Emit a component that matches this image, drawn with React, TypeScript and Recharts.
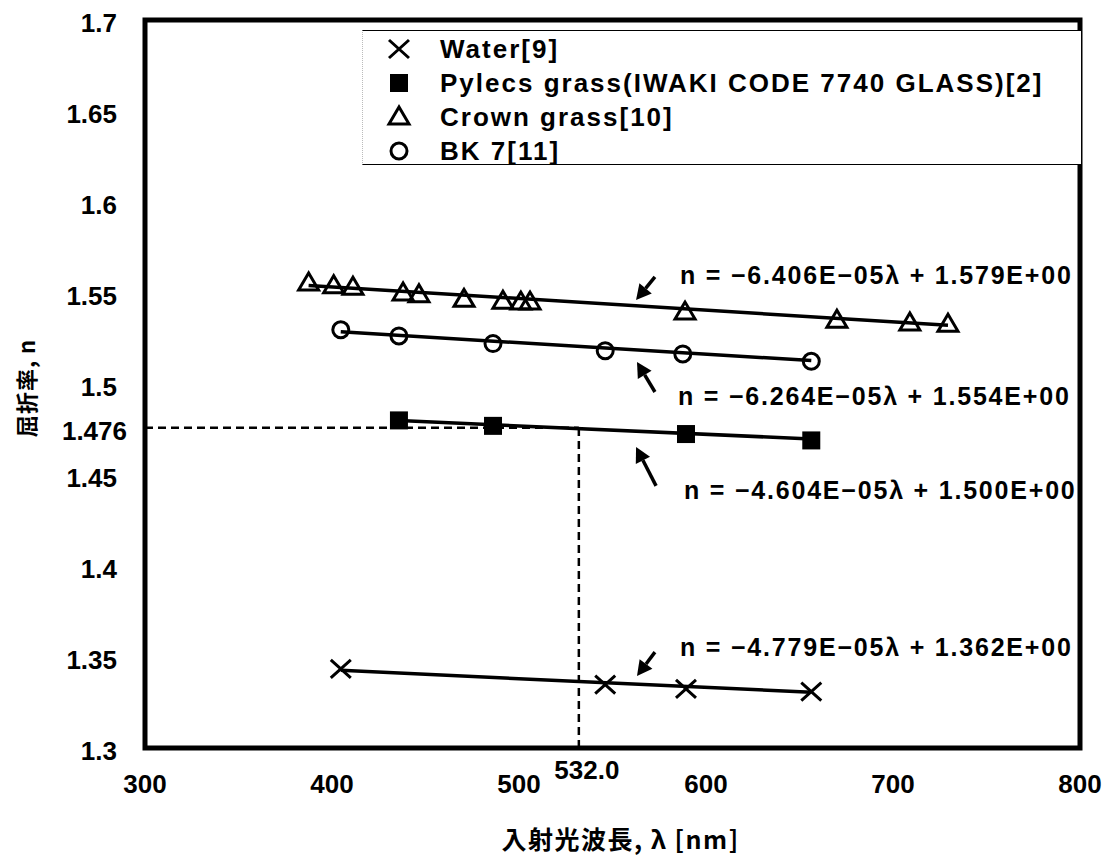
import React from 'react'
import {
  ScatterChart,
  Scatter,
  XAxis,
  YAxis,
  ReferenceLine,
  ReferenceArea,
  ReferenceDot,
} from 'recharts'

// wavelength [nm] / refractive index per material
const waterX = [404.7, 546.1, 589.3, 656.3]
const waterN = [1.3435, 1.3348, 1.3325, 1.331]
const pyrexX = [435.8, 486.1, 589.3, 656.3]
const pyrexN = [1.48, 1.477, 1.4725, 1.469]
const crownX = [387.5, 400.9, 411.2, 438.0, 446.5, 470.6, 491.4, 501.0, 505.9, 588.8, 670.0, 709.0, 729.4]
const crownN = [1.5555, 1.554, 1.5532, 1.55, 1.549, 1.5465, 1.5455, 1.545, 1.545, 1.5395, 1.535, 1.5335, 1.5328]
const bk7X = [404.7, 435.8, 486.1, 546.1, 587.6, 656.3]
const bk7N = [1.5298, 1.5264, 1.5222, 1.5183, 1.5165, 1.5125]

// linear fits n = a*λ + b
const slopes = [-4.779e-5, -4.604e-5, -6.406e-5, -6.264e-5]
const intercepts = [1.362, 1.5, 1.579, 1.554]
const fitLabels = [
  'n = −4.779E−05λ + 1.362E+00',
  'n = −4.604E−05λ + 1.500E+00',
  'n = −6.406E−05λ + 1.579E+00',
  'n = −6.264E−05λ + 1.554E+00',
]

const legendNames = [
  'Water[9]',
  'Pylecs grass(IWAKI CODE 7740 GLASS)[2]',
  'Crown grass[10]',
  'BK 7[11]',
]

const xTicks = [300, 400, 500, 532, 600, 700, 800]
const yTicks = [1.3, 1.35, 1.4, 1.45, 1.476, 1.5, 1.55, 1.6, 1.65, 1.7]

const markLambda = 532
const markN = 1.476

const toPts = (xs: number[], ns: number[]) => xs.map((x, i) => ({ x, n: ns[i] }))
const series = [toPts(waterX, waterN), toPts(pyrexX, pyrexN), toPts(crownX, crownN), toPts(bk7X, bk7N)]

// where each equation and its pointer arrow sit (data units)
const labelPos = [
  { x: 586.1, y: 1.3555 },
  { x: 588.2, y: 1.4418 },
  { x: 586.1, y: 1.5599 },
  { x: 585.0, y: 1.4934 },
]
const arrowPos = [
  [{ x: 572.7, y: 1.3527 }, { x: 563.1, y: 1.3396 }],
  [{ x: 573.3, y: 1.444 }, { x: 562.6, y: 1.4654 }],
  [{ x: 572.7, y: 1.5588 }, { x: 562.6, y: 1.5462 }],
  [{ x: 572.7, y: 1.4956 }, { x: 563.1, y: 1.5121 }],
]

const FONT = "'Liberation Sans', Arial, sans-serif"
const JP = "'Noto Sans CJK JP', sans-serif"

const XMark = ({ cx, cy }: any) => (
  <path
    d={`M${cx - 10},${cy - 9}L${cx + 10},${cy + 9}M${cx + 10},${cy - 9}L${cx - 10},${cy + 9}`}
    stroke="#000"
    strokeWidth={3}
    fill="none"
  />
)
const SquareMark = ({ cx, cy }: any) => <rect x={cx - 9} y={cy - 9} width={18} height={18} fill="#000" />
const TriMark = ({ cx, cy }: any) => (
  <polygon
    points={`${cx},${cy - 10} ${cx - 10},${cy + 7} ${cx + 10},${cy + 7}`}
    stroke="#000"
    strokeWidth={3}
    fill="none"
  />
)
const CircleMark = ({ cx, cy }: any) => <circle cx={cx} cy={cy} r={8} stroke="#000" strokeWidth={3} fill="none" />

const marks = [XMark, SquareMark, TriMark, CircleMark]

const Arrow = (p: any) => {
  const { x1, y1, x2, y2 } = p
  const dx = x2 - x1
  const dy = y2 - y1
  const len = Math.hypot(dx, dy)
  const ux = dx / len
  const uy = dy / len
  const hl = 15
  const hw = 8
  const bx = x2 - ux * hl
  const by = y2 - uy * hl
  return (
    <g>
      <line x1={x1} y1={y1} x2={bx} y2={by} stroke="#000" strokeWidth={3.5} />
      <polygon
        points={`${x2},${y2} ${bx - uy * hw},${by + ux * hw} ${bx + uy * hw},${by - ux * hw}`}
        fill="#000"
      />
    </g>
  )
}

const YTick = ({ x, y, payload }: any) => {
  const v = payload.value
  const dx = v === markN ? 10 : 0
  return (
    <text x={x + dx} y={y + 3} textAnchor="end" dominantBaseline="central" fontFamily={FONT} fontWeight="bold" fontSize={26} fill="#000">
      {v}
    </text>
  )
}

const XTick = ({ x, y, payload }: any) => {
  const v = payload.value
  const special = v === markLambda
  return (
    <text
      x={x + (special ? 8 : 0)}
      y={y + (special ? 22 : 36)}
      textAnchor="middle"
      dominantBaseline="central"
      fontFamily={FONT}
      fontWeight="bold"
      fontSize={26}
      fill="#000"
    >
      {special ? v.toFixed(1) : v}
    </text>
  )
}

export default function App() {
  return (
    <div style={{ position: 'relative', width: 1118, height: 858, margin: '-8px 0 0 -8px' }}>
      <ScatterChart width={1118} height={858} margin={{ top: 20, right: 38, bottom: 10, left: 0 }}>
        <XAxis
          type="number"
          dataKey="x"
          domain={[300, 800]}
          ticks={xTicks}
          tick={<XTick />}
          tickSize={0}
          tickMargin={0}
          axisLine={false}
          tickLine={false}
          height={100}
          allowDataOverflow
          interval={0}
          label={{
            content: ({ viewBox }: any) => (
              <text
                x={viewBox.x + viewBox.width / 2 + 8}
                y={viewBox.y + 90}
                textAnchor="middle"
                dominantBaseline="central"
                fontFamily={JP}
                fontWeight="bold"
                fontSize={25}
                letterSpacing={1.5}
                fill="#000"
              >
                入射光波長, λ [nm]
              </text>
            ),
          }}
        />
        <YAxis
          type="number"
          dataKey="n"
          domain={[1.3, 1.7]}
          ticks={yTicks}
          tick={<YTick />}
          tickSize={0}
          tickMargin={28}
          axisLine={false}
          tickLine={false}
          width={145}
          allowDataOverflow
          interval={0}
          label={{
            content: ({ viewBox }: any) => {
              const cx = viewBox.x + 25
              const cy = viewBox.y + viewBox.height / 2 + 4
              return (
                <text
                  x={cx}
                  y={cy}
                  transform={`rotate(-90 ${cx} ${cy})`}
                  textAnchor="middle"
                  dominantBaseline="central"
                  fontFamily={JP}
                  fontWeight="bold"
                  fontSize={22}
                  letterSpacing={1}
                  fill="#000"
                >
                  屈折率, n
                </text>
              )
            },
          }}
        />

        {/* guide to n at 532 nm */}
        <ReferenceLine
          segment={[{ x: 300, y: markN }, { x: markLambda, y: markN }]}
          stroke="#000"
          strokeWidth={2.5}
          strokeDasharray="8 5"
        />
        <ReferenceLine
          segment={[{ x: markLambda, y: 1.3 }, { x: markLambda, y: markN }]}
          stroke="#000"
          strokeWidth={2.5}
          strokeDasharray="8 5"
        />

        {/* fitted lines across each data range */}
        {series.map((pts, i) => {
          const xs = pts.map((p) => p.x)
          const a = Math.min(...xs)
          const b = Math.max(...xs)
          return (
            <ReferenceLine
              key={`fit${i}`}
              segment={[
                { x: a, y: slopes[i] * a + intercepts[i] },
                { x: b, y: slopes[i] * b + intercepts[i] },
              ]}
              stroke="#000"
              strokeWidth={3.5}
            />
          )
        })}

        {series.map((pts, i) => (
          <Scatter key={`s${i}`} data={pts} shape={marks[i]} isAnimationActive={false} />
        ))}

        {arrowPos.map((seg, i) => (
          <ReferenceLine key={`ar${i}`} segment={seg} shape={Arrow} />
        ))}
        {labelPos.map((p, i) => (
          <ReferenceDot
            key={`lb${i}`}
            x={p.x}
            y={p.y}
            r={0}
            shape={(s: any) => (
              <text
                x={s.cx}
                y={s.cy}
                dominantBaseline="central"
                fontFamily={FONT}
                fontWeight="bold"
                fontSize={25}
                letterSpacing={1.8}
                fill="#000"
              >
                {fitLabels[i]}
              </text>
            )}
          />
        ))}

        <ReferenceArea x1={300} x2={800} y1={1.3} y2={1.7} fill="none" stroke="#000" strokeWidth={5} />
      </ScatterChart>

      <div
        style={{
          position: 'absolute',
          left: 362,
          top: 30,
          width: 718,
          height: 133,
          borderTop: '1.5px solid #000',
          borderBottom: '1.5px solid #000',
          borderLeft: '1px dotted #bbb',
          background: '#fff',
          fontFamily: FONT,
          fontWeight: 'bold',
          fontSize: 26,
          letterSpacing: 2,
        }}
      >
        {legendNames.map((name, i) => {
          const M = marks[i]
          return (
            <div key={name} style={{ position: 'absolute', left: 0, top: 1 + i * 34, height: 34, display: 'flex', alignItems: 'center' }}>
              <svg width={77} height={34}>
                <M cx={36} cy={17} />
              </svg>
              <span style={{ lineHeight: '34px' }}>{name}</span>
            </div>
          )
        })}
      </div>
    </div>
  )
}
